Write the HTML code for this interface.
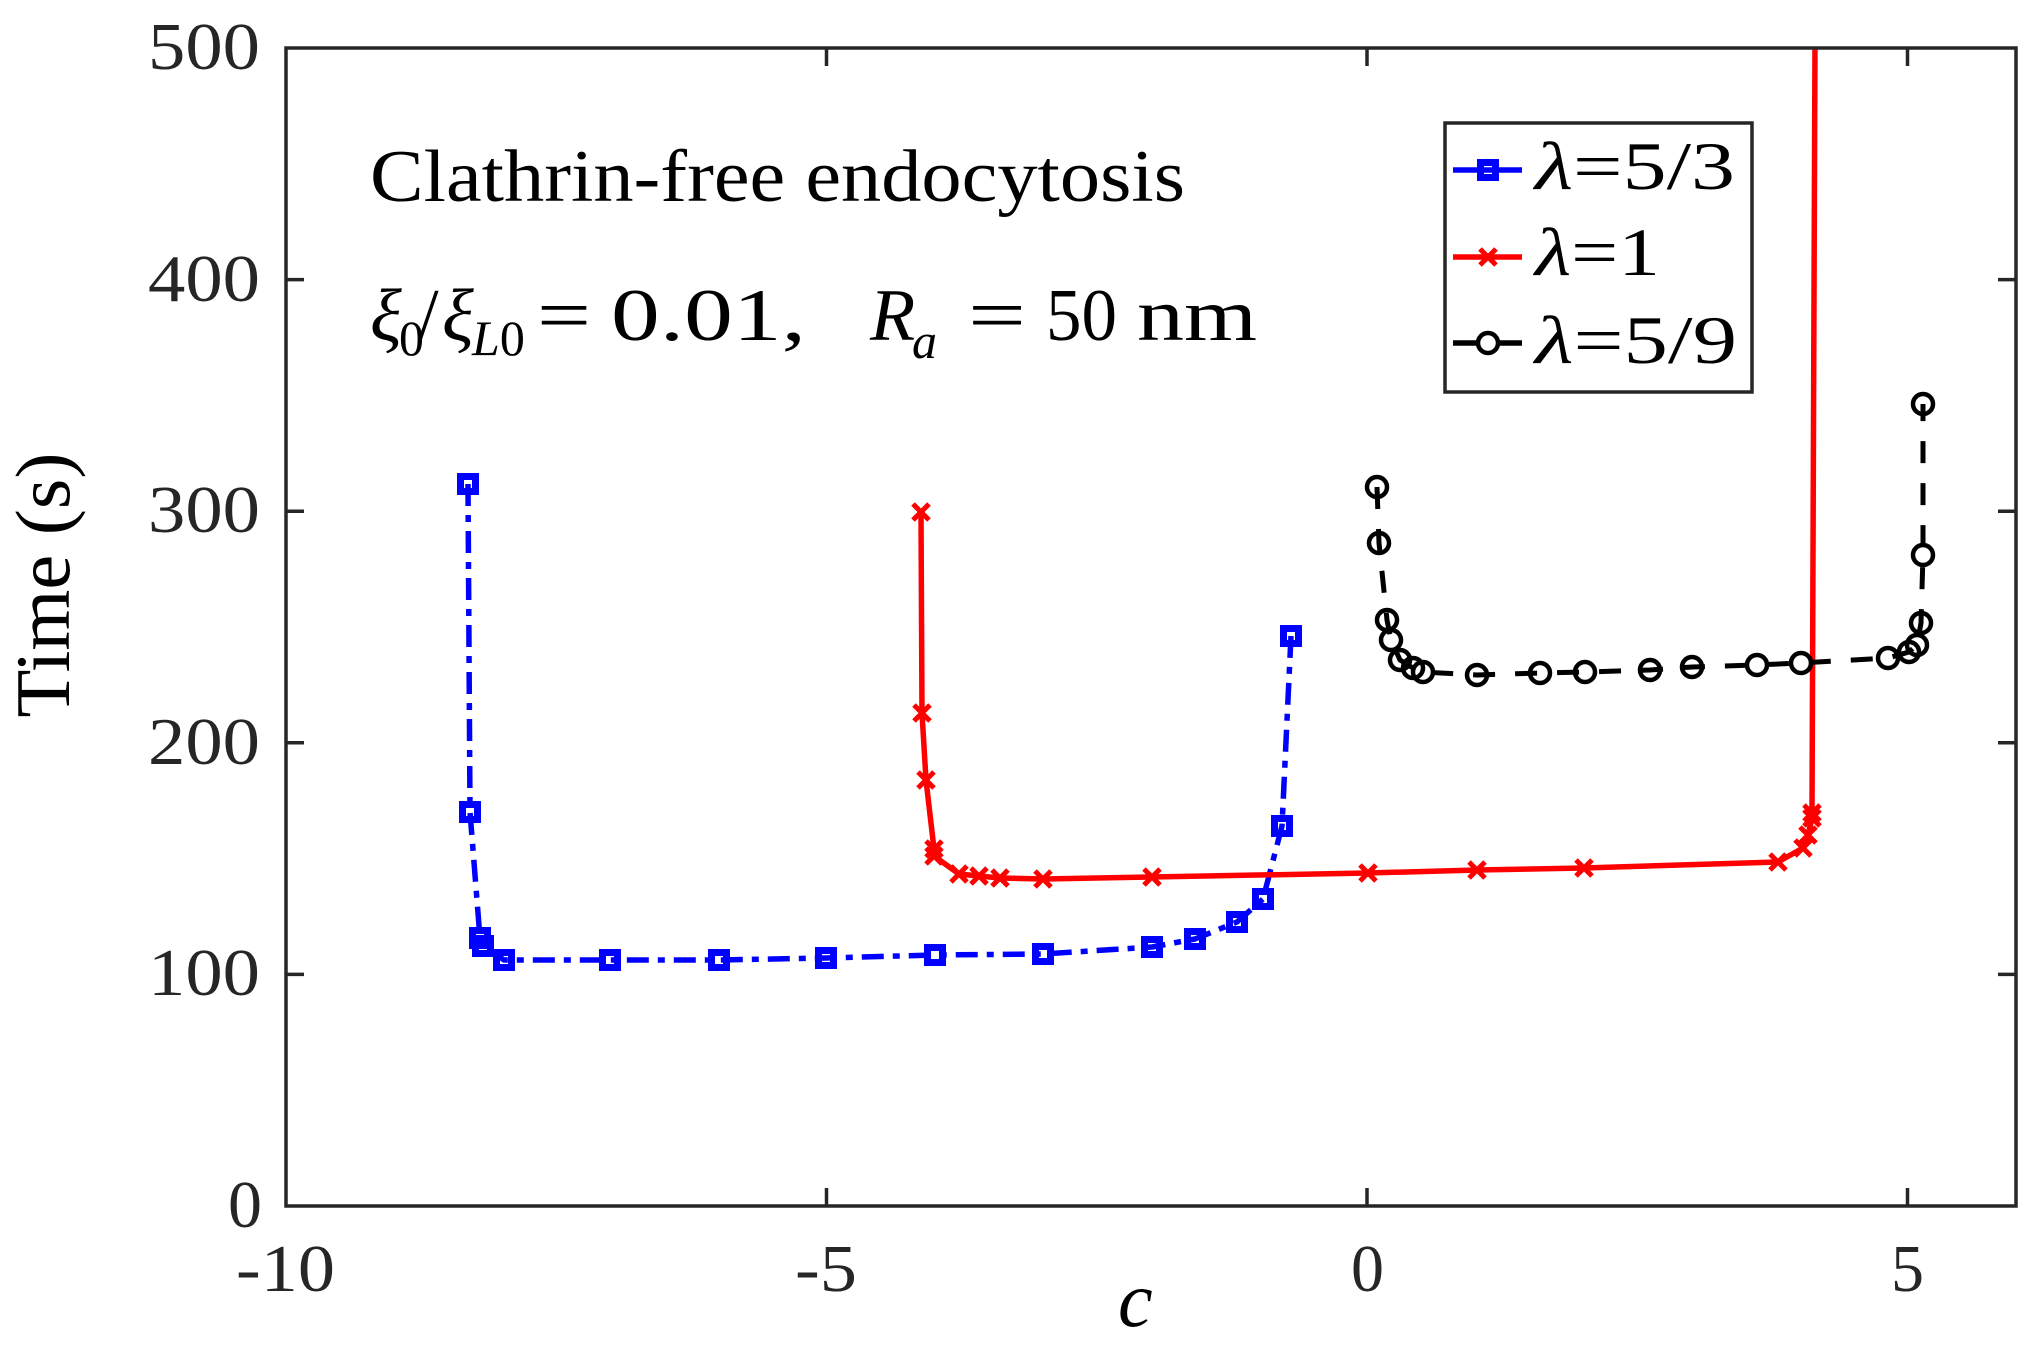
<!DOCTYPE html>
<html><head><meta charset="utf-8"><style>
html,body{margin:0;padding:0;background:#fff;}
svg{display:block;}
</style></head><body>
<svg xmlns="http://www.w3.org/2000/svg" width="2037" height="1353" viewBox="0 0 2037 1353">
<rect x="0" y="0" width="2037" height="1353" fill="#fff"/>
<defs><clipPath id="cp"><rect x="286" y="48" width="1730" height="1158"/></clipPath></defs>

<!-- series -->
<g clip-path="url(#cp)" fill="none" stroke-linejoin="round">
<polyline stroke="#0000ff" stroke-width="5.5" stroke-dasharray="22 9 7 9" points="468,484 470,812 480,938 483,946 504,960 610,960 719,960 826,958 935,955 1043,954 1152,947 1195,939 1237,922 1263,899 1282,826 1291,636"/>
<polyline stroke="#ff0000" stroke-width="5.5" points="921,512 922,713 926,780 934,849 934,856 959,874 979,876 1000,878 1043,879 1152,877 1368,873 1477,870 1584,868 1778,862 1803,848 1808,835 1812,818 1812,813 1815,40"/>
<polyline stroke="#000" stroke-width="5" stroke-dasharray="22 20" points="1377,487 1379,543 1387,620 1391,640 1400,660 1413,668 1423,672 1477,675 1540,673 1585,672 1650,670 1692,667 1757,665 1801,663 1888,658 1909,652 1917,645 1921,623 1923,555 1923,404"/>
</g>

<!-- blue square markers -->
<g fill="none" stroke="#0000ff" stroke-width="7">
<rect x="460.5" y="476.5" width="15" height="15"/>
<rect x="462.5" y="804.5" width="15" height="15"/>
<rect x="472.5" y="930.5" width="15" height="15"/>
<rect x="475.5" y="938.5" width="15" height="15"/>
<rect x="496.5" y="952.5" width="15" height="15"/>
<rect x="602.5" y="952.5" width="15" height="15"/>
<rect x="711.5" y="952.5" width="15" height="15"/>
<rect x="818.5" y="950.5" width="15" height="15"/>
<rect x="927.5" y="947.5" width="15" height="15"/>
<rect x="1035.5" y="946.5" width="15" height="15"/>
<rect x="1144.5" y="939.5" width="15" height="15"/>
<rect x="1187.5" y="931.5" width="15" height="15"/>
<rect x="1229.5" y="914.5" width="15" height="15"/>
<rect x="1255.5" y="891.5" width="15" height="15"/>
<rect x="1274.5" y="818.5" width="15" height="15"/>
<rect x="1283.5" y="628.5" width="15" height="15"/>
</g>

<!-- red x markers -->
<g stroke="#ff0000" stroke-width="5" fill="none">
<path d="M913,504 l16,16 M929,504 l-16,16"/>
<path d="M914,705 l16,16 M930,705 l-16,16"/>
<path d="M918,772 l16,16 M934,772 l-16,16"/>
<path d="M926,841 l16,16 M942,841 l-16,16"/>
<path d="M926,848 l16,16 M942,848 l-16,16"/>
<path d="M951,866 l16,16 M967,866 l-16,16"/>
<path d="M971,868 l16,16 M987,868 l-16,16"/>
<path d="M992,870 l16,16 M1008,870 l-16,16"/>
<path d="M1035,871 l16,16 M1051,871 l-16,16"/>
<path d="M1144,869 l16,16 M1160,869 l-16,16"/>
<path d="M1360,865 l16,16 M1376,865 l-16,16"/>
<path d="M1469,862 l16,16 M1485,862 l-16,16"/>
<path d="M1576,860 l16,16 M1592,860 l-16,16"/>
<path d="M1770,854 l16,16 M1786,854 l-16,16"/>
<path d="M1795,840 l16,16 M1811,840 l-16,16"/>
<path d="M1800,827 l16,16 M1816,827 l-16,16"/>
<path d="M1804,810 l16,16 M1820,810 l-16,16"/>
<path d="M1804,805 l16,16 M1820,805 l-16,16"/>
</g>

<!-- black circle markers -->
<g fill="none" stroke="#000" stroke-width="4.5">
<circle cx="1377" cy="487" r="10"/>
<circle cx="1379" cy="543" r="10"/>
<circle cx="1387" cy="620" r="10"/>
<circle cx="1391" cy="640" r="10"/>
<circle cx="1400" cy="660" r="10"/>
<circle cx="1413" cy="668" r="10"/>
<circle cx="1423" cy="672" r="10"/>
<circle cx="1477" cy="675" r="10"/>
<circle cx="1540" cy="673" r="10"/>
<circle cx="1585" cy="672" r="10"/>
<circle cx="1650" cy="670" r="10"/>
<circle cx="1692" cy="667" r="10"/>
<circle cx="1757" cy="665" r="10"/>
<circle cx="1801" cy="663" r="10"/>
<circle cx="1888" cy="658" r="10"/>
<circle cx="1909" cy="652" r="10"/>
<circle cx="1917" cy="645" r="10"/>
<circle cx="1921" cy="623" r="10"/>
<circle cx="1923" cy="555" r="10"/>
<circle cx="1923" cy="404" r="10"/>
</g>

<!-- axes box -->
<rect x="286" y="48" width="1730" height="1158" fill="none" stroke="#262626" stroke-width="3.5"/>
<g stroke="#262626" stroke-width="3.5">
<line x1="286" y1="974.4" x2="304" y2="974.4"/>
<line x1="286" y1="742.8" x2="304" y2="742.8"/>
<line x1="286" y1="511.2" x2="304" y2="511.2"/>
<line x1="286" y1="279.6" x2="304" y2="279.6"/>
<line x1="2016" y1="974.4" x2="1998" y2="974.4"/>
<line x1="2016" y1="742.8" x2="1998" y2="742.8"/>
<line x1="2016" y1="511.2" x2="1998" y2="511.2"/>
<line x1="2016" y1="279.6" x2="1998" y2="279.6"/>
<line x1="826.5" y1="1206" x2="826.5" y2="1188"/>
<line x1="1367" y1="1206" x2="1367" y2="1188"/>
<line x1="1907.5" y1="1206" x2="1907.5" y2="1188"/>
<line x1="826.5" y1="48" x2="826.5" y2="66"/>
<line x1="1367" y1="48" x2="1367" y2="66"/>
<line x1="1907.5" y1="48" x2="1907.5" y2="66"/>
</g>

<!-- y tick labels -->
<g font-family="'Liberation Serif', serif" font-size="67" fill="#262626" text-anchor="end">
<text x="260" y="69" textLength="112" lengthAdjust="spacingAndGlyphs">500</text>
<text x="260" y="301" textLength="112" lengthAdjust="spacingAndGlyphs">400</text>
<text x="260" y="532" textLength="112" lengthAdjust="spacingAndGlyphs">300</text>
<text x="260" y="764" textLength="112" lengthAdjust="spacingAndGlyphs">200</text>
<text x="260" y="995" textLength="112" lengthAdjust="spacingAndGlyphs">100</text>
<text x="262" y="1227" textLength="34" lengthAdjust="spacingAndGlyphs">0</text>
</g>
<!-- x tick labels -->
<g font-family="'Liberation Serif', serif" font-size="67" fill="#262626">
<text x="236" y="1291" textLength="99" lengthAdjust="spacingAndGlyphs">-10</text>
<text x="795" y="1291" textLength="62" lengthAdjust="spacingAndGlyphs">-5</text>
<text x="1351" y="1291" textLength="33" lengthAdjust="spacingAndGlyphs">0</text>
<text x="1891" y="1291" textLength="33" lengthAdjust="spacingAndGlyphs">5</text>
</g>
<!-- axis labels -->
<text x="1118" y="1326" font-family="'Liberation Serif', serif" font-style="italic" font-size="78" fill="#000">c</text>
<text transform="translate(69,585) rotate(-90)" text-anchor="middle" font-family="'Liberation Serif', serif" font-size="77" fill="#000" textLength="265" lengthAdjust="spacingAndGlyphs">Time (s)</text>

<!-- annotation -->
<g font-family="'Liberation Serif', serif" fill="#000">
<text x="370" y="201" font-size="74" textLength="815" lengthAdjust="spacingAndGlyphs">Clathrin-free endocytosis</text>
<text x="370" y="340" font-size="74" font-style="italic">ξ</text>
<text x="399" y="355" font-size="50">0</text>
<text x="418" y="340" font-size="74">/</text>
<text x="442" y="340" font-size="74" font-style="italic">ξ</text>
<text x="472" y="355" font-size="50"><tspan font-style="italic">L</tspan>0</text>
<text x="537" y="340" font-size="74" textLength="54" lengthAdjust="spacingAndGlyphs">=</text>
<text x="611" y="340" font-size="74" textLength="195" lengthAdjust="spacingAndGlyphs">0.01,</text>
<text x="870" y="340" font-size="74" font-style="italic">R</text>
<text x="912" y="358" font-size="50" font-style="italic">a</text>
<text x="968" y="340" font-size="74" textLength="58" lengthAdjust="spacingAndGlyphs">=</text>
<text x="1046" y="340" font-size="74" textLength="71" lengthAdjust="spacingAndGlyphs">50</text>
<text x="1137" y="340" font-size="74" textLength="120" lengthAdjust="spacingAndGlyphs">nm</text>
</g>

<!-- legend -->
<rect x="1445" y="123" width="307" height="269" fill="#fff" stroke="#262626" stroke-width="3.5"/>
<line x1="1453" y1="170" x2="1522" y2="170" stroke="#0000ff" stroke-width="5.5"/>
<rect x="1480.5" y="162.5" width="15" height="15" fill="none" stroke="#0000ff" stroke-width="7"/>
<line x1="1453" y1="257" x2="1522" y2="257" stroke="#ff0000" stroke-width="5.5"/>
<path d="M1480,249 l16,16 M1496,249 l-16,16" stroke="#ff0000" stroke-width="5" fill="none"/>
<line x1="1453" y1="343" x2="1522" y2="343" stroke="#000" stroke-width="5.5"/>
<circle cx="1488" cy="343" r="10" fill="#fff" stroke="#000" stroke-width="4.5"/>
<g font-family="'Liberation Serif', serif" font-size="68" fill="#000">
<text x="1535" y="189" textLength="200" lengthAdjust="spacingAndGlyphs"><tspan font-style="italic">λ</tspan>=5/3</text>
<text x="1535" y="275" textLength="125" lengthAdjust="spacingAndGlyphs"><tspan font-style="italic">λ</tspan>=1</text>
<text x="1535" y="363" textLength="202" lengthAdjust="spacingAndGlyphs"><tspan font-style="italic">λ</tspan>=5/9</text>
</g>
</svg>
</body></html>
